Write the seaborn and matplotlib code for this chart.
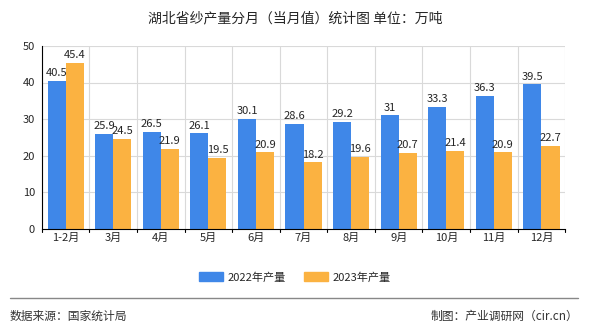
import matplotlib
matplotlib.use("Agg")
import matplotlib.pyplot as plt
import seaborn as sns
import pandas as pd

months = ["1-2月", "3月", "4月", "5月", "6月", "7月", "8月", "9月", "10月", "11月", "12月"]
v2022 = [40.5, 25.9, 26.5, 26.1, 30.1, 28.6, 29.2, 31, 33.3, 36.3, 39.5]
v2023 = [45.4, 24.5, 21.9, 19.5, 20.9, 18.2, 19.6, 20.7, 21.4, 20.9, 22.7]
series = ["2022年产量", "2023年产量"]
colors = ["#3f87e8", "#fbb241"]

df = pd.DataFrame({
    "month": months * 2,
    "value": v2022 + v2023,
    "series": [series[0]] * len(months) + [series[1]] * len(months),
})

sns.set_theme(style="white")
plt.rcParams['font.family'] = ['Noto Sans CJK SC', 'DejaVu Sans']

fig = plt.figure(figsize=(5.9, 3.3), dpi=100)
ax = fig.add_axes([0.071, 0.306, 0.887, 0.555])
sns.barplot(data=df, x="month", y="value", hue="series", palette=colors,
            width=0.76, ax=ax, legend=False, saturation=1, linewidth=0, gap=0)

ax.set_ylim(0, 50)
ax.set_xlim(-0.5, len(months) - 0.5)
ax.set_yticks(range(0, 51, 10))
ax.set_xlabel("")
ax.set_ylabel("")
ax.set_xticks(range(len(months)))
ax.set_xticklabels(months, fontsize=8)
ax.tick_params(axis='y', labelsize=8, length=3, pad=2)
ax.tick_params(axis='x', length=0, pad=3)
for i in range(len(months) + 1):
    ax.axvline(i - 0.5, color="#d9d9d9", lw=0.8, zorder=0)
for y in range(10, 51, 10):
    ax.axhline(y, color="#d9d9d9", lw=0.8, zorder=0)
for i in range(len(months) + 1):
    ax.plot([i - 0.5, i - 0.5], [0, -0.8], color="black", lw=0.8, clip_on=False)
for s in ["top", "right"]:
    ax.spines[s].set_visible(False)
ax.spines["left"].set_color("black")
ax.spines["bottom"].set_color("black")
ax.spines["left"].set_linewidth(0.8)
ax.spines["bottom"].set_linewidth(0.8)

for cont in ax.containers:
    ax.bar_label(cont, labels=[f"{v:g}" for v in cont.datavalues], fontsize=8, padding=2)

from matplotlib.patches import Patch
handles = [Patch(color=c) for c in colors]
fig.legend(handles, series, loc="center", bbox_to_anchor=(0.5, 0.16), ncol=2,
           frameon=False, fontsize=8, handlelength=2.2, handleheight=0.9,
           columnspacing=1.6, handletextpad=0.4)

fig.text(0.5, 0.945, "湖北省纱产量分月（当月值）统计图 单位：万吨", ha="center", va="center", fontsize=10)
fig.add_artist(plt.Line2D([0.017, 0.98], [0.097, 0.097], color="#888888", lw=1))
fig.text(0.017, 0.042, "数据来源：国家统计局", ha="left", va="center", fontsize=8.5, color="#333333")
fig.text(0.98, 0.042, "制图：产业调研网（cir.cn）", ha="right", va="center", fontsize=8.5, color="#333333")

fig.savefig("out.png", dpi=100)
